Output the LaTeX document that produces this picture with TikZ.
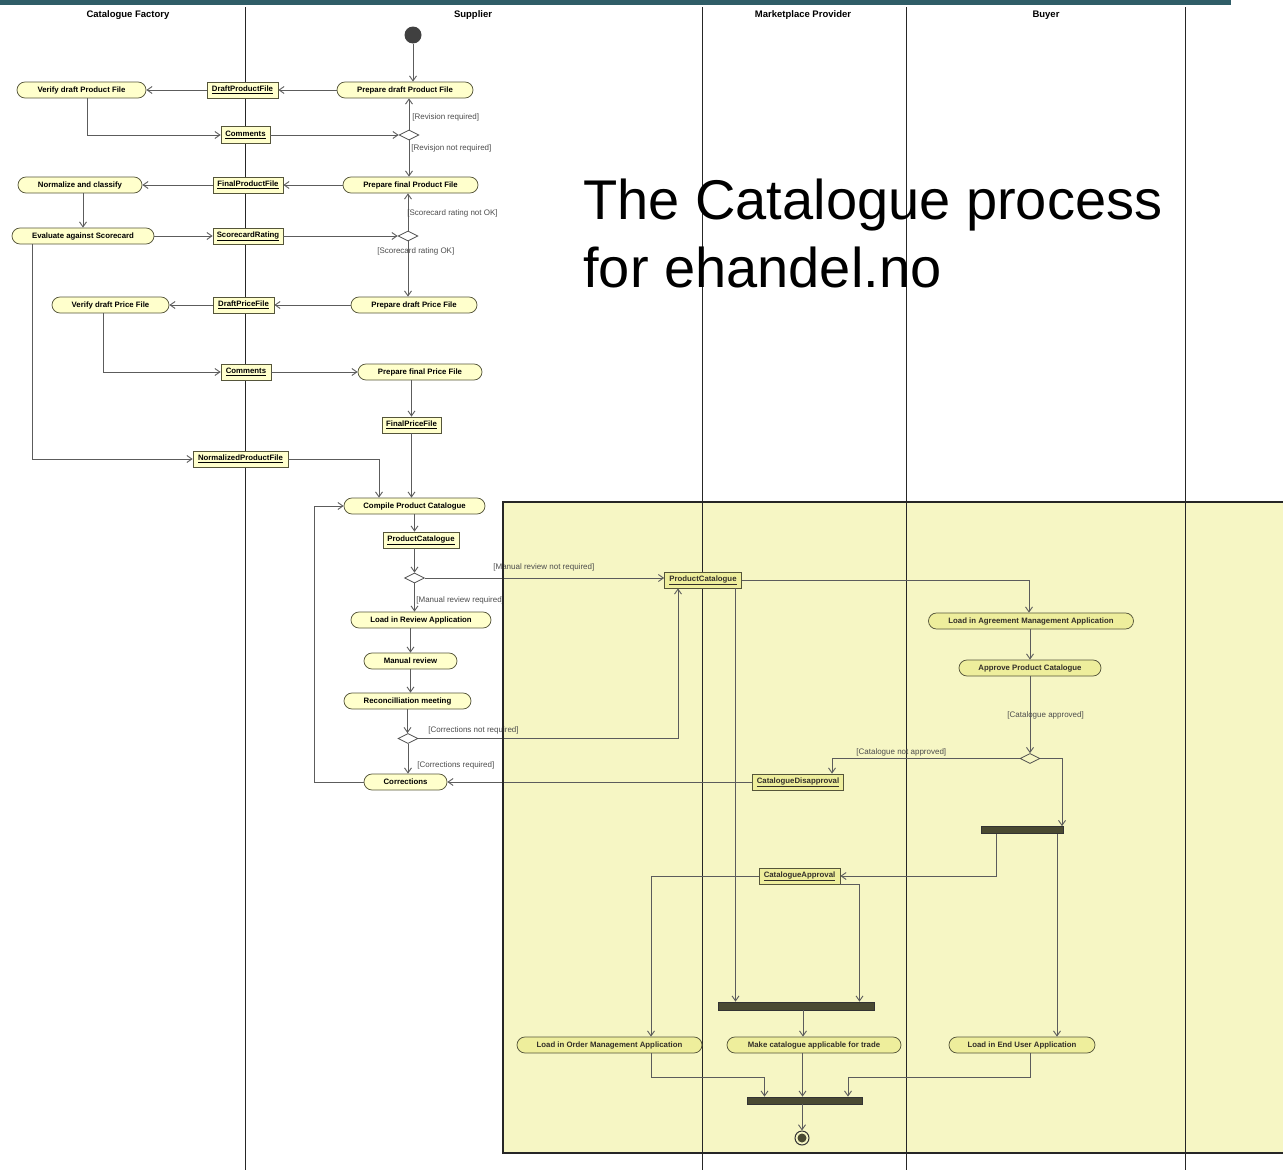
\documentclass[tikz,border=0pt]{standalone}
\usepackage{fontspec}
\setmainfont{Liberation Sans}
\usetikzlibrary{arrows.meta,shapes.geometric,calc}
\definecolor{barteal}{HTML}{2F5D67}
\definecolor{actfill}{HTML}{FFFFCC}
\definecolor{tintfill}{HTML}{EEEE9C}
\definecolor{olivedraw}{HTML}{55553A}
\definecolor{linkgray}{HTML}{5C5C5C}
\definecolor{regionfill}{HTML}{F6F6C4}
\definecolor{bardark}{HTML}{4A4A32}
\tikzset{every picture/.style={line width=0.75pt}}
\tikzset{
  act/.style={draw=olivedraw, fill=actfill, rounded corners=8pt, minimum height=16pt, inner sep=1pt, font=\bfseries\fontsize{7.8}{9}\selectfont},
  obj/.style={draw=olivedraw, fill=actfill, minimum height=16pt, inner sep=1pt, font=\bfseries\fontsize{7.8}{9}\selectfont},
  tinted/.style={fill=tintfill, text=black!85!olive},
  dec/.style={draw=black!70, fill=white, diamond, minimum width=20pt, minimum height=10pt, inner sep=0pt},
  syncbar/.style={fill=bardark, draw=black!80, minimum height=7pt, inner sep=0pt},
  guard/.style={anchor=west, inner sep=0pt, text=black!70, font=\fontsize{8}{9}\selectfont},
  lanetitle/.style={font=\bfseries\fontsize{9.5}{11}\selectfont},
  flow/.style={draw=linkgray, line width=0.9pt, -{Straight Barb[length=5pt,width=7pt]}},
}

\begin{document}
\begin{tikzpicture}[x=1pt,y=1pt,yscale=-1,xscale=1]
  \useasboundingbox (0,0) rectangle (1283,1170);

  %Shaded region
  \fill[regionfill] (503,502) rectangle (1290,1153);

  %Top band
  \fill[barteal] (0,0) rectangle (1231,4.5);
  %Swimlanes
  \draw[black!85, line width=0.9pt] (245.5,7) -- (245.5,1170);
  \draw[black!85, line width=0.9pt] (702,7) -- (702,1170);
  \draw[black!85, line width=0.9pt] (906,7) -- (906,1170);
  \draw[black!85, line width=0.9pt] (1185,7) -- (1185,1170);
  \node[lanetitle] (laneCF) at (128,15) {Catalogue Factory};
  \node[lanetitle] (laneSU) at (473,15) {Supplier};
  \node[lanetitle] (laneMP) at (803,15) {Marketplace Provider};
  \node[lanetitle] (laneBU) at (1046,15) {Buyer};

  %Title
  \node[anchor=base west, inner sep=0pt, font=\fontsize{56}{68}\selectfont] (title1) at (583,219) {The Catalogue process};
  \node[anchor=base west, inner sep=0pt, font=\fontsize{56}{68}\selectfont] (title2) at (583,287) {for ehandel.no};

  %Product file
  \node[circle, fill=black!75, minimum size=17pt, inner sep=0pt] (start) at (413,35) {};
  \node[act, minimum width=136pt] (prepPF) at (405,90) {Prepare draft Product File};
  \node[obj, minimum width=71pt] (dPF) at (242.5,90) {\underline{DraftProductFile}};
  \node[act, minimum width=129pt] (verPF) at (81.5,90) {Verify draft Product File};
  \node[obj, minimum width=49pt, minimum height=17pt] (com1) at (245.5,135) {\underline{Comments}};
  \node[dec] (d1) at (409,135) {};
  \node[act, minimum width=135pt] (prepFPF) at (410.5,185) {Prepare final Product File};
  \node[obj, minimum width=70pt] (fPF) at (248,185) {\underline{FinalProductFile}};
  \node[act, minimum width=124pt] (norm) at (80,185) {Normalize and classify};
  \node[act, minimum width=142pt] (eval) at (83,236) {Evaluate against Scorecard};
  \node[obj, minimum width=70pt] (sRat) at (248,236) {\underline{ScorecardRating}};
  \node[dec] (d2) at (408,236) {};

  %Price file
  \node[act, minimum width=126pt] (prepPr) at (414,305) {Prepare draft Price File};
  \node[obj, minimum width=61pt] (dPr) at (243.5,305) {\underline{DraftPriceFile}};
  \node[act, minimum width=117pt] (verPr) at (110.5,305) {Verify draft Price File};
  \node[obj, minimum width=50pt] (com2) at (246,372) {\underline{Comments}};
  \node[act, minimum width=124pt] (prepFPr) at (420,372) {Prepare final Price File};
  \node[obj, minimum width=59pt] (fPr) at (411.5,425) {\underline{FinalPriceFile}};
  \node[obj, minimum width=95pt] (nPF) at (240.5,459) {\underline{NormalizedProductFile}};

  %Catalogue review
  \node[act, minimum width=141pt] (comp) at (414.5,506) {Compile Product Catalogue};
  \node[obj, minimum width=76pt] (pc1) at (421,540) {\underline{ProductCatalogue}};
  \node[dec] (d3) at (414.5,578) {};
  \node[act, minimum width=140pt] (loadRev) at (421,620) {Load in Review Application};
  \node[act, minimum width=93pt] (manRev) at (410.5,661) {Manual review};
  \node[act, minimum width=127pt] (recon) at (407.5,701) {Reconcilliation meeting};
  \node[dec] (d4) at (408,738.5) {};
  \node[act, minimum width=83pt] (corr) at (405.5,782) {Corrections};
  \coordinate (loopc) at (314,782);

  %Marketplace and buyer
  \node[obj, tinted, minimum width=77pt] (pc2) at (703,580) {\underline{ProductCatalogue}};
  \node[act, tinted, minimum width=205pt] (loadAgr) at (1031,621) {Load in Agreement Management Application};
  \node[act, tinted, minimum width=142pt] (appr) at (1030,668) {Approve Product Catalogue};
  \node[dec, fill=regionfill] (d5) at (1030,758.5) {};
  \node[obj, tinted, minimum width=91pt] (disap) at (798,782) {\underline{CatalogueDisapproval}};
  \node[syncbar, minimum width=82pt] (bar1) at (1022,830) {};
  \node[obj, tinted, minimum width=81pt] (cApp) at (799.5,876) {\underline{CatalogueApproval}};
  \node[syncbar, minimum width=156pt, minimum height=8pt] (bar2) at (796,1006) {};
  \node[act, tinted, minimum width=185pt] (loadOrd) at (609.5,1045) {Load in Order Management Application};
  \node[act, tinted, minimum width=174pt] (make) at (814,1045) {Make catalogue applicable for trade};
  \node[act, tinted, minimum width=146pt] (loadEnd) at (1022,1045) {Load in End User Application};
  \node[syncbar, minimum width=115pt] (bar3) at (805,1100.5) {};
  \node[circle, draw=black!80, line width=1pt, minimum size=14pt, inner sep=0pt] (final) at (802,1138) {};
  \fill[bardark] (final) circle (4.5);

  \coordinate (pc2d) at ($(pc2.south)+(32.5,0)$);
  \coordinate (b1r) at ($(bar1.south)+(35,0)$);
  \coordinate (b2d) at ($(bar2.south)+(7,0)$);
  \coordinate (mkd) at ($(make.south)+(-11.5,0)$);

  %Straight Lines
  \draw[flow] (start) -- (start |- prepPF.north);
  \draw[flow] (prepPF.west) -- (dPF.east);
  \draw[flow] (dPF.west) -- (verPF.east);
  \draw[flow] ($(verPF.south)+(5.5,0)$) |- (com1.west);
  \draw[flow] (com1.east) -- (d1.west);
  \draw[flow] (d1.north) -- (d1.north |- prepPF.south);
  \draw[flow] (d1.south) -- (d1.south |- prepFPF.north);
  \draw[flow] (prepFPF.west) -- (fPF.east);
  \draw[flow] (fPF.west) -- (norm.east);
  \draw[flow] (norm.south -| eval.north) -- (eval.north);
  \draw[flow] (eval.east) -- (sRat.west);
  \draw[flow] (sRat.east) -- (d2.west);
  \draw[flow] (d2.north) -- (d2.north |- prepFPF.south);
  \draw[flow] (d2.south) -- (d2.south |- prepPr.north);
  \draw[flow] (prepPr.west) -- (dPr.east);
  \draw[flow] (dPr.west) -- (verPr.east);
  \draw[flow] ($(verPr.south)+(-7.5,0)$) |- (com2.west);
  \draw[flow] (com2.east) -- (prepFPr.west);
  \draw[flow] (prepFPr.south -| fPr.north) -- (fPr.north);
  \draw[flow] (fPr.south) -- (fPr.south |- comp.north);
  \draw[flow] ($(eval.south)+(-51,0)$) |- (nPF.west);
  \draw[flow] (nPF.east) -| ($(comp.north)+(-35.5,0)$);
  \draw[flow] (comp.south) -- (comp.south |- pc1.north);
  \draw[flow] (pc1.south -| d3.north) -- (d3.north);
  \draw[flow] (d3.east) -- (d3.east -| pc2.west);
  \draw[flow] (d3.south) -- (d3.south |- loadRev.north);
  \draw[flow] (loadRev.south -| manRev.north) -- (manRev.north);
  \draw[flow] (manRev.south) -- (manRev.south |- recon.north);
  \draw[flow] (recon.south) -- (recon.south |- d4.north);
  \draw[flow] (d4.south) -- (d4.south |- corr.north);
  \draw[flow] (d4.east) -| ($(pc2.south)+(-25,0)$);
  \draw[flow] (corr.west) -- (loopc) |- (comp.west);
  \draw[flow] (disap.west) -- (corr.east);
  \draw[flow] (pc2.east) -| ($(loadAgr.north)+(-2,0)$);
  \draw[flow] (loadAgr.south -| appr.north) -- (appr.north);
  \draw[flow] (appr.south) -- (appr.south |- d5.north);
  \draw[flow] (d5.west) -| ($(disap.north)+(34,0)$);
  \draw[flow] (d5.east) -| ($(bar1.north)+(40,0)$);
  \draw[flow] ($(bar1.south)+(-26,0)$) |- (cApp.east);
  \draw[flow] (b1r) -- (b1r |- loadEnd.north);
  \draw[flow] (cApp.west) -| ($(loadOrd.north)+(41.5,0)$);
  \draw[flow] (cApp.south east) -| ($(bar2.north)+(63.5,0)$);
  \draw[flow] (pc2d) -- (pc2d |- bar2.north);
  \draw[flow] (b2d) -- (b2d |- make.north);
  \draw[flow] ($(loadOrd.south)+(41.5,0)$) -- ++(0,24) -| ($(bar3.north)+(-40.5,0)$);
  \draw[flow] (mkd) -- (mkd |- bar3.north);
  \draw[flow] ($(loadEnd.south)+(8,0)$) -- ++(0,24) -| ($(bar3.north)+(43,0)$);
  \draw[flow] (bar3.south -| final.north) -- (final.north);

  %Guards
  \node[guard] (g1) at (412,117) {[Revision required]};
  \node[guard] (g2) at (411,148) {[Revisjon not required]};
  \node[guard] (g3) at (407,213) {[Scorecard rating not OK]};
  \node[guard] (g4) at (377,251) {[Scorecard rating OK]};
  \node[guard] (g5) at (493,567) {[Manual review not required]};
  \node[guard] (g6) at (416,600) {[Manual review required]};
  \node[guard] (g7) at (428,730) {[Corrections not required]};
  \node[guard] (g8) at (417,765) {[Corrections required]};
  \node[guard] (g9) at (1007,715) {[Catalogue approved]};
  \node[guard] (g10) at (856,752) {[Catalogue not approved]};

  %Shaded region border
  \draw[black!85, line width=2pt] (503,502) rectangle (1290,1153);
\end{tikzpicture}
\end{document}
